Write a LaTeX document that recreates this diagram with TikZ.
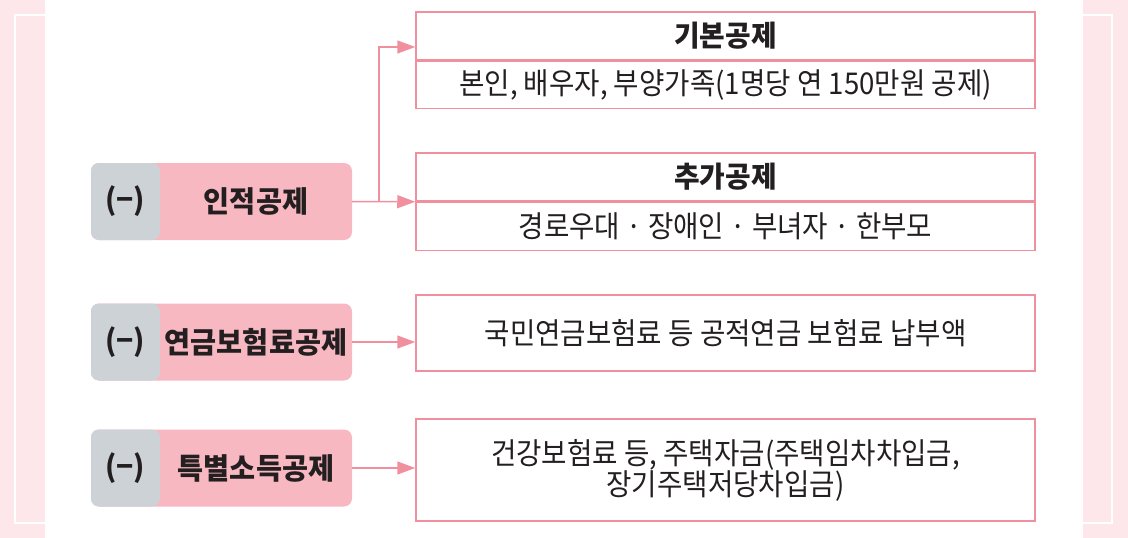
\documentclass[tikz,border=0pt]{standalone}
\usepackage{fontspec}
\usetikzlibrary{positioning,arrows.meta}
\newfontfamily\krbody[FakeStretch=0.92]{Noto Sans CJK KR}
\newfontfamily\krhead[FakeStretch=0.96]{Noto Sans CJK KR}
\definecolor{strip}{HTML}{FDE7EA}
\definecolor{rim}{HTML}{F0909E}
\definecolor{tagpink}{HTML}{F8B8C1}
\definecolor{taggrey}{HTML}{CDD2D7}
\definecolor{ink}{HTML}{231F20}
\tikzset{
  headbox/.style={draw=rim, line width=1.5pt, minimum width=619pt, minimum height=48pt,
    inner sep=0pt, text=ink, font=\krhead\bfseries\fontsize{29}{34}\selectfont},
  bodybox/.style={draw=rim, line width=1.5pt, minimum width=619pt, inner sep=0pt,
    text=ink, align=center, font=\krbody\fontsize{30}{31}\selectfont},
  tag/.style={minimum width=261pt, minimum height=77pt, rounded corners=8pt, fill=tagpink,
    path picture={\fill[taggrey] (path picture bounding box.south west)
      rectangle ([xshift=69pt]path picture bounding box.north west);}},
  tagtext/.style={inner sep=0pt, text=ink, font=\krhead\bfseries\fontsize{29.5}{34}\selectfont},
  link/.style={draw=rim, line width=1.5pt, -{Triangle[length=18pt,width=13pt]}}
}
\begin{document}
\begin{tikzpicture}[x=1pt,y=-1pt]
\useasboundingbox (0,0) rectangle (1128,538);
% page margins
\fill[strip] (0,0) rectangle (45,538);
\fill[strip] (1083,0) rectangle (1128,538);
\draw[white, line width=2pt] (45,15) -- (15,15) -- (15,523) -- (45,523);
\draw[white, line width=2pt] (1083,15) -- (1112,15) -- (1112,523) -- (1083,523);

% right column
\node[headbox] (basic) at (725.5,36) {기본공제};
\node[bodybox, minimum height=47pt, below=0pt of basic] (basicdesc) {본인, 배우자, 부양가족(1명당 연 150만원 공제)};
\node[headbox] (extra) at (725.5,177) {추가공제};
\node[bodybox, minimum height=48pt, below=0pt of extra] (extradesc) {경로우대 · 장애인 · 부녀자 · 한부모};
\node[bodybox, minimum height=76pt] (pension) at (725.5,333) {국민연금보험료 등 공적연금 보험료 납부액};
\node[bodybox, minimum height=102pt] (special) at (725.5,470) {건강보험료 등, 주택자금(주택임차차입금,\\장기주택저당차입금)};

% left column
\node[tag] (tag1) at (221.5,201.5) {};
\node[tagtext] (minus1) at ([xshift=34.5pt]tag1.west) {(−)};
\node[tagtext] (name1) at ([xshift=34.5pt]tag1.center) {인적공제};
\node[tag] (tag2) at (221.5,342) {};
\node[tagtext] (minus2) at ([xshift=34.5pt]tag2.west) {(−)};
\node[tagtext] (name2) at ([xshift=34.5pt]tag2.center) {연금보험료공제};
\node[tag] (tag3) at (221.5,468) {};
\node[tagtext] (minus3) at ([xshift=34.5pt]tag3.west) {(−)};
\node[tagtext] (name3) at ([xshift=34.5pt]tag3.center) {특별소득공제};

% arrows
\draw[link] (tag1.east) -- ++(27,0) |- ([yshift=-11pt]basic.west);
\draw[link] (tag1.east) -- (extra.south west);
\draw[link] (tag2.east) -- (tag2.east -| pension.west);
\draw[link] (tag3.east) -- (tag3.east -| special.west);
\end{tikzpicture}
\end{document}
